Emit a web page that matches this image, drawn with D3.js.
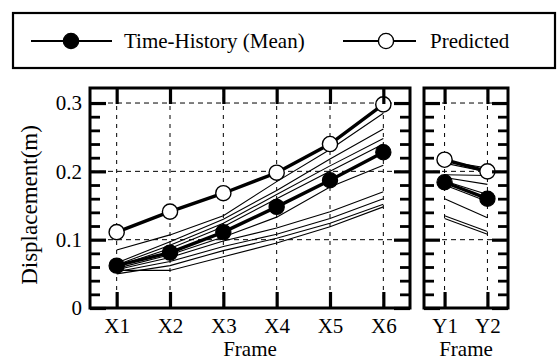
<!DOCTYPE html>
<html>
<head>
<meta charset="utf-8">
<script src="https://cdn.jsdelivr.net/npm/d3@7"></script>
<style>
  html, body { margin: 0; padding: 0; background: #fff; }
  svg { display: block; }
  text { font-family: "Liberation Serif", "Times New Roman", serif; fill: #000; }
</style>
</head>
<body>
<svg id="chart" width="558" height="361"></svg>
<script>
// ---------- data ----------
const framesX = ["X1", "X2", "X3", "X4", "X5", "X6"];
const framesY = ["Y1", "Y2"];

const meanX = [0.062, 0.081, 0.111, 0.148, 0.187, 0.228];
const predX = [0.111, 0.141, 0.168, 0.198, 0.240, 0.298];
const meanY = [0.184, 0.160];
const predY = [0.217, 0.200];

// individual time-history results (thin lines)
const tracesX = [
  [0.085, 0.107, 0.135, 0.185, 0.232, 0.285],
  [0.066, 0.097, 0.130, 0.172, 0.218, 0.262],
  [0.063, 0.092, 0.124, 0.166, 0.208, 0.248],
  [0.061, 0.087, 0.119, 0.160, 0.200, 0.240],
  [0.058, 0.078, 0.104, 0.133, 0.177, 0.209],
  [0.056, 0.074, 0.098, 0.117, 0.141, 0.170],
  [0.053, 0.068, 0.090, 0.108, 0.131, 0.160],
  [0.050, 0.062, 0.084, 0.102, 0.124, 0.152],
  [0.055, 0.055, 0.075, 0.095, 0.119, 0.148]
];
const tracesY = [
  [0.215, 0.205],
  [0.212, 0.199],
  [0.195, 0.194],
  [0.191, 0.181],
  [0.186, 0.166],
  [0.180, 0.156],
  [0.160, 0.132],
  [0.135, 0.112],
  [0.131, 0.108]
];

const yMajor = [0, 0.1, 0.2, 0.3];
const yMajorLabels = ["0", "0.1", "0.2", "0.3"];
const yMinor = [0.02, 0.04, 0.06, 0.08, 0.12, 0.14, 0.16, 0.18, 0.22, 0.24, 0.26, 0.28];
const yGrid = [0.1, 0.2, 0.3];

const legendLabels = ["Time-History (Mean)", "Predicted"];
const xTitle = "Frame";
const yTitle = "Displacement(m)";

// ---------- layout ----------
const svg = d3.select("#chart");
const yTop = 88, yBottom = 308;
const p1 = { left: 90, right: 410 };
const p2 = { left: 424, right: 508 };

const y = d3.scaleLinear().domain([0, 0.322]).range([yBottom, yTop]);
const x1 = d3.scalePoint().domain(framesX).range([p1.left, p1.right]).padding(0.5);
const x2 = d3.scalePoint().domain(framesY).range([p2.left, p2.right]).padding(0.48);

const FS = 21;
const FONT = '"Liberation Serif", "Times New Roman", serif';

function panel(x, cats, pbox, traces, mean, pred, showYLabels) {
  const g = svg.append("g");
  // grid
  g.selectAll(".gv").data(cats).enter().append("line")
    .attr("x1", d => x(d)).attr("x2", d => x(d))
    .attr("y1", yTop).attr("y2", yBottom)
    .attr("stroke", "#000").attr("stroke-width", 1).attr("stroke-dasharray", "4,5");
  g.selectAll(".gh").data(yGrid).enter().append("line")
    .attr("x1", pbox.left).attr("x2", pbox.right)
    .attr("y1", d => y(d)).attr("y2", d => y(d))
    .attr("stroke", "#000").attr("stroke-width", 1).attr("stroke-dasharray", "5,4");

  const line = d3.line().x((d, i) => x(cats[i])).y(d => y(d));
  // thin traces
  g.selectAll(".tr").data(traces).enter().append("path")
    .attr("d", line).attr("fill", "none").attr("stroke", "#000").attr("stroke-width", 1.1);
  // thick series
  g.append("path").attr("d", line(mean)).attr("fill", "none").attr("stroke", "#000").attr("stroke-width", 3.4);
  g.append("path").attr("d", line(pred)).attr("fill", "none").attr("stroke", "#000").attr("stroke-width", 3.4);
  g.selectAll(".mc").data(mean).enter().append("circle")
    .attr("cx", (d, i) => x(cats[i])).attr("cy", d => y(d)).attr("r", 7.6)
    .attr("fill", "#000").attr("stroke", "#000").attr("stroke-width", 1.2);
  g.selectAll(".pc").data(pred).enter().append("circle")
    .attr("cx", (d, i) => x(cats[i])).attr("cy", d => y(d)).attr("r", 7.6)
    .attr("fill", "#fff").attr("stroke", "#000").attr("stroke-width", 1.4);

  // axes (inward ticks)
  const styleAxis = (sel, w) => {
    sel.attr("font-family", null).attr("font-size", null);
    sel.select(".domain").remove();
    sel.selectAll(".tick line").attr("stroke", "#000").attr("stroke-width", w);
    sel.selectAll("text").style("font-size", FS + "px").style("font-family", FONT).attr("fill", "#000");
  };
  const leftMajor = g.append("g").attr("transform", `translate(${pbox.left},0)`)
    .call(d3.axisLeft(y).tickValues(yMajor).tickSize(-16).tickPadding(8)
      .tickFormat((d, i) => showYLabels ? yMajorLabels[i] : ""));
  styleAxis(leftMajor, 3.2);
  const leftMinor = g.append("g").attr("transform", `translate(${pbox.left},0)`)
    .call(d3.axisLeft(y).tickValues(yMinor).tickSize(-10).tickFormat(""));
  styleAxis(leftMinor, 2.8);
  const rightMajor = g.append("g").attr("transform", `translate(${pbox.right},0)`)
    .call(d3.axisRight(y).tickValues(yMajor).tickSize(-16).tickFormat(""));
  styleAxis(rightMajor, 3.2);
  const rightMinor = g.append("g").attr("transform", `translate(${pbox.right},0)`)
    .call(d3.axisRight(y).tickValues(yMinor).tickSize(-10).tickFormat(""));
  styleAxis(rightMinor, 2.8);
  const topAx = g.append("g").attr("transform", `translate(0,${yTop})`)
    .call(d3.axisTop(x).tickSize(-16).tickFormat(""));
  styleAxis(topAx, 3.2);
  const botAx = g.append("g").attr("transform", `translate(0,${yBottom})`)
    .call(d3.axisBottom(x).tickSize(-16).tickPadding(10));
  styleAxis(botAx, 3.2);

  // frame
  g.append("rect").attr("x", pbox.left).attr("y", yTop)
    .attr("width", pbox.right - pbox.left).attr("height", yBottom - yTop)
    .attr("fill", "none").attr("stroke", "#000").attr("stroke-width", 3);

  // x title
  g.append("text").attr("x", (pbox.left + pbox.right) / 2).attr("y", 356)
    .attr("text-anchor", "middle").style("font-size", FS + "px").text(xTitle);
}

panel(x1, framesX, p1, tracesX, meanX, predX, true);
panel(x2, framesY, p2, tracesY, meanY, predY, false);

// y title
svg.append("text")
  .attr("transform", `translate(37,${(yTop + yBottom) / 2 + 7}) rotate(-90)`)
  .attr("text-anchor", "middle").style("font-size", "23px").text(yTitle);

// legend
const lg = svg.append("g");
lg.append("rect").attr("x", 13).attr("y", 13).attr("width", 542).attr("height", 55)
  .attr("fill", "none").attr("stroke", "#000").attr("stroke-width", 2.2);
const ly = 41;
const items = [
  { x0: 31, x1: 112, cx: 71, fill: "#000", tx: 124 },
  { x0: 343, x1: 416, cx: 386, fill: "#fff", tx: 430 }
];
items.forEach((it, i) => {
  lg.append("line").attr("x1", it.x0).attr("x2", it.x1).attr("y1", ly).attr("y2", ly)
    .attr("stroke", "#000").attr("stroke-width", 2.2);
  lg.append("circle").attr("cx", it.cx).attr("cy", ly).attr("r", 7.6)
    .attr("fill", it.fill).attr("stroke", "#000").attr("stroke-width", 1.4);
  lg.append("text").attr("x", it.tx).attr("y", ly + 7).style("font-size", FS + "px").text(legendLabels[i]);
});
</script>
</body>
</html>
